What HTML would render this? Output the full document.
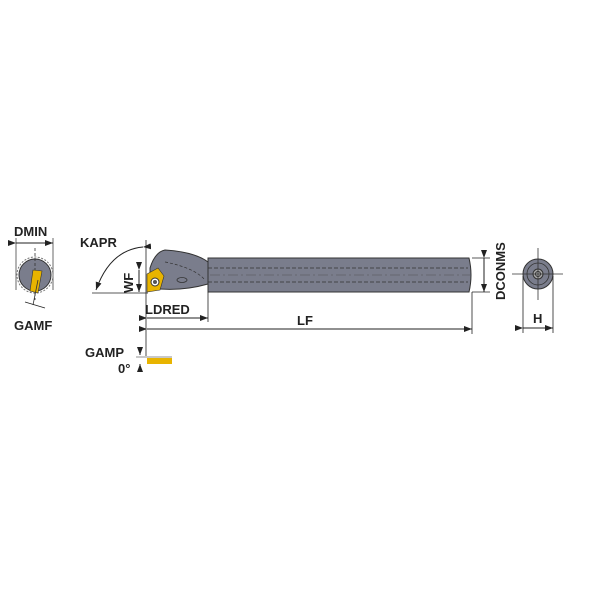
<!DOCTYPE html>
<html><head><style>body{margin:0;background:#fff}svg{display:block}text{font-family:"Liberation Sans",sans-serif;font-weight:bold;fill:#222}</style></head><body>
<svg width="600" height="600" viewBox="0 0 600 600" xmlns="http://www.w3.org/2000/svg">
<defs><marker id="a" markerWidth="8" markerHeight="6" refX="8" refY="3" orient="auto"><path d="M0,0L8,3L0,6z" fill="#222"/></marker></defs>
<!-- left end view -->
<line x1="16" y1="238" x2="16" y2="290" stroke="#444" stroke-width="0.8"/>
<line x1="53" y1="238" x2="53" y2="290" stroke="#444" stroke-width="0.8"/>
<line x1="16" y1="243" x2="53" y2="243" stroke="#222" marker-start="url(#a)" marker-end="url(#a)"/>
<text x="14" y="236" font-size="13">DMIN</text>
<circle cx="35" cy="275" r="18" fill="none" stroke="#777" stroke-dasharray="2,1.5"/>
<circle cx="35" cy="275" r="16" fill="#7a7d8c" stroke="#333"/>
<line x1="35" y1="248" x2="35" y2="300" stroke="#333" stroke-dasharray="3,2" stroke-width="0.8"/>
<path d="M33,270 L42,271 L38,293 L30,291z" fill="#e8b400" stroke="#333" stroke-width="0.6"/>
<line x1="38" y1="280" x2="33" y2="305" stroke="#333" stroke-width="0.8"/>
<line x1="25" y1="302" x2="45" y2="308" stroke="#222" stroke-width="0.8"/>
<text x="14" y="330" font-size="13">GAMF</text>
<!-- KAPR -->
<text x="80" y="247" font-size="13">KAPR</text>
<path d="M143,247 Q110,250 96,290" fill="none" stroke="#222" marker-end="url(#a)" marker-start="url(#a)"/>
<line x1="92" y1="293" x2="148" y2="293" stroke="#222" stroke-width="0.8"/>
<line x1="146" y1="240" x2="146" y2="356" stroke="#222" stroke-width="0.8"/>
<!-- WF -->
<text transform="translate(133,293) rotate(-90)" font-size="13">WF</text>
<line x1="139" y1="270" x2="139" y2="292" stroke="#222" marker-start="url(#a)" marker-end="url(#a)"/>
<!-- tool head -->
<path d="M150,288 L150,268 Q155,252 165,250 Q195,252 208,262 L208,284 Q180,292 150,288z" fill="#7a7d8c" stroke="#333"/>
<path d="M165,262 Q195,268 205,280" fill="none" stroke="#333" stroke-dasharray="3,2" stroke-width="0.7"/>
<ellipse cx="182" cy="280" rx="5" ry="2.5" fill="none" stroke="#333" stroke-width="0.8"/>
<path d="M147,274 L158,268 L164,276 L160,290 L147,292z" fill="#e8b400" stroke="#333" stroke-width="0.6"/>
<circle cx="155" cy="282" r="4" fill="#fff" stroke="#333"/>
<circle cx="155" cy="282" r="2" fill="#555"/>
<!-- shank -->
<path d="M208,258 L469,258 Q473,275 469,292 L208,292z" fill="#7a7d8c" stroke="#333"/>
<line x1="208" y1="268" x2="468" y2="268" stroke="#333" stroke-dasharray="4,2" stroke-width="0.8"/>
<line x1="208" y1="282" x2="468" y2="282" stroke="#333" stroke-dasharray="4,2" stroke-width="0.8"/>
<line x1="210" y1="275" x2="470" y2="275" stroke="#555" stroke-dasharray="10,3,2,3" stroke-width="0.5"/>
<!-- DCONMS -->
<line x1="472" y1="258" x2="490" y2="258" stroke="#222" stroke-width="0.8"/>
<line x1="472" y1="292" x2="490" y2="292" stroke="#222" stroke-width="0.8"/>
<line x1="484" y1="258" x2="484" y2="292" stroke="#222" marker-start="url(#a)" marker-end="url(#a)"/>
<text transform="translate(505,300) rotate(-90)" font-size="13">DCONMS</text>
<!-- LDRED / LF -->
<line x1="208" y1="292" x2="208" y2="322" stroke="#222" stroke-width="0.8"/>
<line x1="472" y1="292" x2="472" y2="334" stroke="#222" stroke-width="0.8"/>
<text x="145" y="314" font-size="13">LDRED</text>
<line x1="147" y1="318" x2="208" y2="318" stroke="#222" marker-start="url(#a)" marker-end="url(#a)"/>
<text x="297" y="325" font-size="13">LF</text>
<line x1="147" y1="329" x2="472" y2="329" stroke="#222" marker-start="url(#a)" marker-end="url(#a)"/>
<!-- GAMP -->
<text x="85" y="357" font-size="13">GAMP</text>
<text x="118" y="373" font-size="13">0°</text>
<line x1="140" y1="348" x2="140" y2="355" stroke="#222" marker-end="url(#a)"/>
<line x1="140" y1="372" x2="140" y2="364" stroke="#222" marker-end="url(#a)"/>
<line x1="136" y1="357" x2="172" y2="357" stroke="#222" stroke-width="0.6"/>
<rect x="147" y="358" width="25" height="6" fill="#e8b400"/>
<!-- right end view -->
<circle cx="538" cy="274" r="15" fill="#7a7d8c" stroke="#333"/>
<circle cx="538" cy="274" r="11" fill="none" stroke="#333" stroke-width="0.8"/>
<circle cx="538" cy="274" r="5" fill="#aaa" stroke="#333"/>
<circle cx="538" cy="274" r="2.5" fill="none" stroke="#333"/>
<line x1="512" y1="274" x2="563" y2="274" stroke="#333" stroke-width="0.8"/>
<line x1="538" y1="248" x2="538" y2="300" stroke="#333" stroke-width="0.8"/>
<line x1="523" y1="276" x2="523" y2="333" stroke="#222" stroke-width="0.8"/>
<line x1="553" y1="276" x2="553" y2="333" stroke="#222" stroke-width="0.8"/>
<line x1="523" y1="328" x2="553" y2="328" stroke="#222" marker-start="url(#a)" marker-end="url(#a)"/>
<text x="533" y="323" font-size="13">H</text>
</svg>
</body></html>
